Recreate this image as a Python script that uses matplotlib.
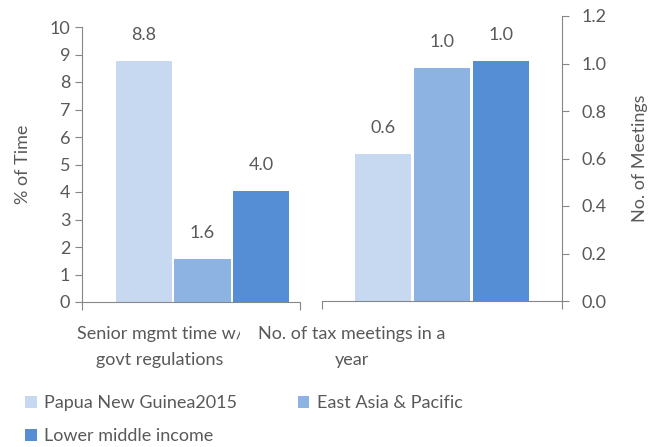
import matplotlib.pyplot as plt
from matplotlib.patches import Rectangle

plt.rcParams['font.family'] = ['Lato', 'DejaVu Sans']

series = ['Papua New Guinea2015', 'East Asia & Pacific', 'Lower middle income']
colors = ['#C6D9F0', '#8DB3E2', '#558ED5']
senior_time = [8.76, 1.56, 4.04]       # % of time
tax_meetings = [0.62, 0.98, 1.01]     # no. of meetings
categories = ['Senior mgmt time w/\ngovt regulations', 'No. of tax meetings in a\nyear']

grey = '#595959'
axis_grey = '#868686'
fs = 13

fig = plt.figure(figsize=(6.56, 4.47), dpi=100)
ax1 = fig.add_axes([82/656, 1 - 302/447, 218/656, 275/447])
ax2 = fig.add_axes([322/656, 1 - 301/447, 240/656, 285/447])

pos = [-1, 0, 1]
bars = []
for i in range(3):
    b1 = ax1.bar(pos[i], senior_time[i], width=0.96, color=colors[i], label=series[i])
    b2 = ax2.bar(pos[i], tax_meetings[i], width=0.96, color=colors[i])
    ax1.bar_label(b1, fmt='%.1f', padding=13, fontsize=fs, color=grey)
    ax2.bar_label(b2, fmt='%.1f', padding=13, fontsize=fs, color=grey)
    bars.append(b1)

ax1.set_xlim(-2.06, 1.667)
ax1.set_ylim(0, 10)
ax1.set_yticks(range(0, 11))
ax2.set_xlim(-2.03, 2.03)
ax2.set_ylim(0, 1.2)
ax2.set_yticks([0, 0.2, 0.4, 0.6, 0.8, 1.0, 1.2])
ax2.set_yticklabels(['%.1f' % v for v in [0, 0.2, 0.4, 0.6, 0.8, 1.0, 1.2]])

for ax in (ax1, ax2):
    for s in ax.spines.values():
        s.set_visible(False)
    ax.spines['bottom'].set_visible(True)
    ax.spines['bottom'].set_color(axis_grey)
    ax.set_xticks(ax.get_xlim())
    ax.set_xticklabels([])
    ax.tick_params(axis='x', length=6, color=axis_grey, direction='out')
    ax.tick_params(axis='y', labelsize=fs, labelcolor=grey, color=axis_grey, length=5)

ax1.spines['left'].set_visible(True)
ax1.spines['left'].set_color(axis_grey)
ax1.set_ylabel('% of Time', fontsize=fs, color=grey, labelpad=13)

ax2.spines['right'].set_visible(True)
ax2.spines['right'].set_color(axis_grey)
ax2.yaxis.tick_right()
ax2.tick_params(axis='y', pad=9)
ax2.yaxis.set_label_position('right')
ax2.set_ylabel('No. of Meetings', fontsize=fs, color=grey, labelpad=18)

# category labels (the left one is cut off, as in the original)
t1 = fig.text(160/656, 1 - 347/447, categories[0], ha='center', va='center',
              fontsize=fs, color=grey, linespacing=1.8)
t1.set_clip_path(Rectangle((0, 0), 240/656, 1, transform=fig.transFigure))
fig.text(352/656, 1 - 347/447, categories[1], ha='center', va='center',
         fontsize=fs, color=grey, linespacing=1.8)

# column-wise fill: PNG, LMI in first column; EAP in second
order = [0, 2, 1]
fig.legend(handles=[bars[i] for i in order], labels=[series[i] for i in order],
           ncol=2, loc='upper left',
           bbox_to_anchor=(18/656, 1 - 388/447), frameon=False, fontsize=fs,
           labelcolor=grey, handlelength=0.65, handleheight=0.65,
           handletextpad=0.4, columnspacing=3.35, labelspacing=0.95,
           borderaxespad=0)

fig.savefig('out.png', dpi=100)
